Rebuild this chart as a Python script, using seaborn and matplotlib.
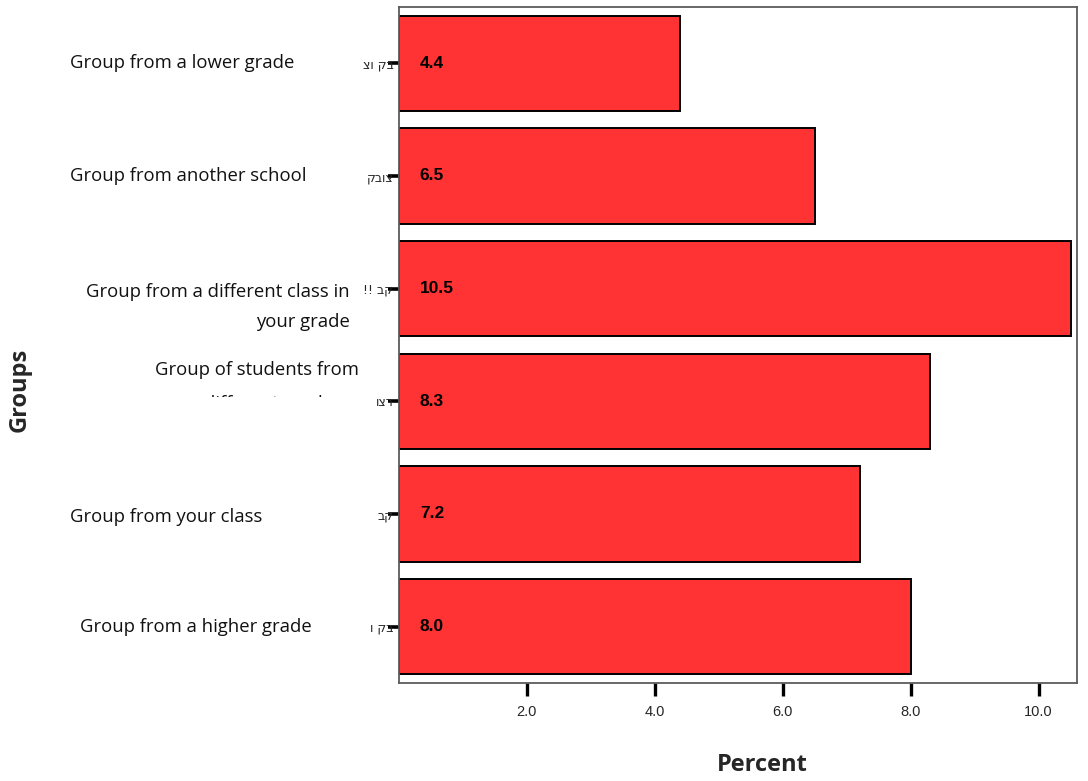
import matplotlib
matplotlib.use("Agg")
import matplotlib.pyplot as plt
import matplotlib.transforms as mtransforms
from matplotlib.patches import Rectangle
import seaborn as sns
import pandas as pd

# Share of students per group
groups = [
    "Group from a lower grade",
    "Group from another school",
    "Group from a different class in your grade",
    "Group of students from different grades",
    "Group from your class",
    "Group from a higher grade",
]
percent = [4.4, 6.5, 10.5, 8.3, 7.2, 8.0]
# Truncated original (Hebrew) category names on the axis
hebrew_ticks = ["צו קב", "קבוצ", "!! בק", "וצר", "בק", "ו קב"]
x_ticks = [2.0, 4.0, 6.0, 8.0, 10.0]

df = pd.DataFrame({"group": groups, "percent": percent})

sns.set_theme(style="white")
plt.rcParams["font.family"] = ["DejaVu Sans"]

fig = plt.figure(figsize=(10.88, 7.81), dpi=100)
ax = fig.add_axes([399 / 1088, 1 - 683 / 781, (1077 - 399) / 1088, (683 - 7) / 781])

sns.barplot(data=df, y="group", x="percent", orient="h", color="#FF3333",
            saturation=1, width=0.845, edgecolor="black", linewidth=1.4, ax=ax)

ax.set_xlim(0, 10.6)
ax.set_ylim(5.5, -0.5)

for s in ax.spines.values():
    s.set_color("#5c5c5c")
    s.set_linewidth(1.3)

# x axis ticks
ax.set_xticks(x_ticks)
ax.set_xticklabels([f"{v:.1f}" for v in x_ticks], family="Liberation Sans", fontsize=10.5)
ax.tick_params(axis="x", direction="out", length=9.5, width=2.4, color="black",
               pad=6, bottom=True)

# y axis ticks with clipped Hebrew names
ax.set_yticks(range(len(groups)))
ax.set_yticklabels(hebrew_ticks, fontsize=9, family="DejaVu Sans")
ax.tick_params(axis="y", direction="out", length=8, width=2.6, color="black",
               pad=-4, left=True)
ax.set_xlabel("")
ax.set_ylabel("")

# value labels inside bars
for i, v in enumerate(percent):
    ax.annotate(f"{v:.1f}", xy=(0, i), xytext=(15, 0), textcoords="offset points",
                ha="left", va="center", fontsize=12.5, fontweight="bold",
                family="Liberation Sans", color="black")

# category labels to the left of the axes
trans = mtransforms.blended_transform_factory(fig.transFigure, ax.transData)
lab_kw = dict(transform=trans, va="center", fontsize=13.3, family="Open Sans",
              color="#111111")
W = 1088.0
fig.text(70 / W, 0.0, "Group from a lower grade", ha="left", **lab_kw)
fig.text(70 / W, 1.0, "Group from another school", ha="left", **lab_kw)
fig.text(350 / W, 2.03, "Group from a different class in", ha="right", **lab_kw)
fig.text(350 / W, 2.30, "your grade", ha="right", **lab_kw)
fig.text(359 / W, 2.72, "Group of students from", ha="right", **lab_kw)
t = fig.text(342 / W, 3.02, "different grades", ha="right", **lab_kw)
clip = Rectangle((0, 1 - 397 / 781), 0.5, 10 / 781, transform=fig.transFigure,
                 fill=False, visible=False)
fig.add_artist(clip)
t.set_clip_path(clip)
fig.text(70 / W, 4.03, "Group from your class", ha="left", **lab_kw)
fig.text(80 / W, 5.0, "Group from a higher grade", ha="left", **lab_kw)

# axis titles
fig.text(762 / W, 1 - 765 / 781, "Percent", ha="center", va="center",
         fontsize=17, fontweight="bold", family="Open Sans")
fig.text(20 / W, 1 - 390 / 781, "Groups", ha="center", va="center", rotation=90,
         fontsize=17, fontweight="bold", family="Open Sans")

fig.savefig("out.png", dpi=100)
